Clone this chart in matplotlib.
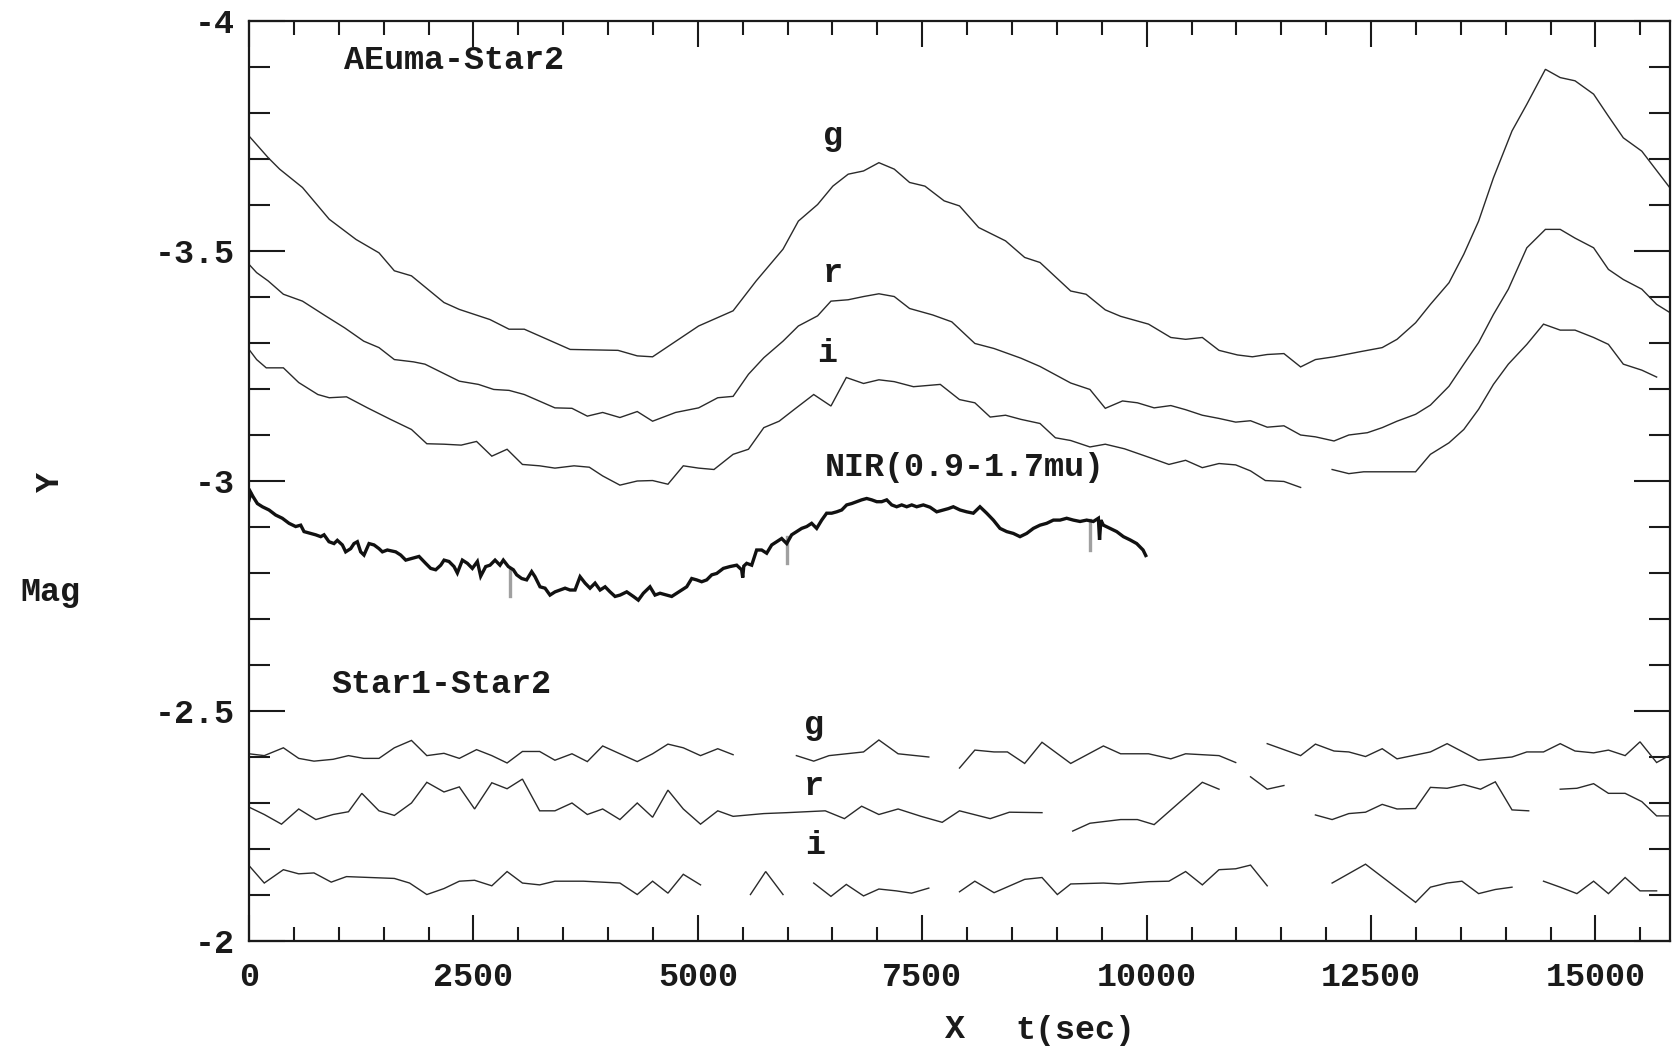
import matplotlib
matplotlib.use("Agg")
import matplotlib.pyplot as plt
from matplotlib.ticker import MultipleLocator, FixedLocator, FixedFormatter
import numpy as np

plt.rcParams['font.family'] = ['Liberation Mono', 'DejaVu Sans Mono']
plt.rcParams['font.weight'] = 'bold'
plt.rcParams['axes.unicode_minus'] = False

# AEuma - Star2 (g, r, i): lists of segments of (t, mag)
aeuma_g = [[(0, -3.750), (213, -3.703), (341, -3.678), (596, -3.638), (894, -3.569), (1193, -3.525),
            (1448, -3.496), (1619, -3.457), (1810, -3.446), (2172, -3.388), (2343, -3.373), (2684, -3.351),
            (2897, -3.330), (3067, -3.330), (3578, -3.286), (4111, -3.284), (4325, -3.272), (4496, -3.270),
            (5009, -3.337), (5393, -3.370), (5650, -3.435), (5949, -3.504), (6120, -3.565), (6334, -3.601),
            (6504, -3.641), (6675, -3.667), (6846, -3.674), (7017, -3.692), (7188, -3.678), (7359, -3.649),
            (7530, -3.641), (7744, -3.609), (7915, -3.598), (8129, -3.551), (8428, -3.522), (8641, -3.486),
            (8812, -3.475), (9154, -3.413), (9325, -3.406), (9539, -3.372), (9710, -3.358), (10021, -3.341),
            (10269, -3.312), (10434, -3.308), (10620, -3.312), (10806, -3.284), (11012, -3.274), (11178, -3.270),
            (11343, -3.275), (11529, -3.277), (11715, -3.248), (11880, -3.264), (12087, -3.270), (12376, -3.281),
            (12624, -3.290), (12789, -3.308), (12996, -3.344), (13161, -3.384), (13368, -3.431), (13533, -3.493),
            (13698, -3.565), (13863, -3.659), (14070, -3.761), (14235, -3.819), (14442, -3.895), (14607, -3.877),
            (14772, -3.870), (14979, -3.841), (15144, -3.793), (15310, -3.746), (15516, -3.717), (15830, -3.637)]]

aeuma_r = [[(0, -3.471), (85, -3.453), (213, -3.435), (383, -3.406), (596, -3.391), (852, -3.359),
            (1065, -3.333), (1278, -3.304), (1448, -3.290), (1619, -3.264), (1832, -3.259), (1960, -3.254),
            (2343, -3.217), (2556, -3.210), (2726, -3.199), (2897, -3.197), (3067, -3.188), (3408, -3.159),
            (3598, -3.158), (3769, -3.141), (3940, -3.149), (4132, -3.138), (4325, -3.151), (4496, -3.130),
            (4752, -3.149), (5009, -3.159), (5222, -3.181), (5393, -3.184), (5564, -3.232), (5735, -3.268),
            (5949, -3.304), (6120, -3.337), (6334, -3.359), (6483, -3.391), (6675, -3.394), (6846, -3.401),
            (7017, -3.407), (7188, -3.401), (7359, -3.375), (7616, -3.361), (7829, -3.346), (8086, -3.299),
            (8300, -3.288), (8599, -3.267), (8812, -3.249), (9154, -3.213), (9368, -3.199), (9539, -3.158),
            (9731, -3.174), (9897, -3.170), (10083, -3.159), (10269, -3.164), (10434, -3.155), (10620, -3.143),
            (10806, -3.136), (10992, -3.128), (11157, -3.131), (11343, -3.117), (11529, -3.120), (11715, -3.100),
            (11880, -3.096), (12087, -3.087), (12252, -3.100), (12459, -3.105), (12624, -3.116), (12789, -3.130),
            (12996, -3.145), (13161, -3.165), (13368, -3.206), (13533, -3.254), (13698, -3.301), (13863, -3.362),
            (14029, -3.417), (14235, -3.507), (14442, -3.547), (14607, -3.547), (14772, -3.528), (14979, -3.507),
            (15144, -3.460), (15310, -3.438), (15516, -3.417), (15681, -3.384), (15830, -3.366)]]

aeuma_i = [[(0, -3.286), (85, -3.264), (192, -3.246), (383, -3.246), (554, -3.214), (767, -3.188),
            (894, -3.181), (1086, -3.183), (1320, -3.159), (1576, -3.134), (1810, -3.112), (1981, -3.081),
            (2172, -3.080), (2364, -3.078), (2535, -3.086), (2705, -3.054), (2875, -3.069), (3046, -3.036),
            (3238, -3.033), (3408, -3.028), (3621, -3.033), (3791, -3.030), (3940, -3.011), (4132, -2.991),
            (4325, -3.000), (4496, -3.001), (4667, -2.993), (4838, -3.033), (5009, -3.028), (5180, -3.025),
            (5393, -3.058), (5564, -3.069), (5735, -3.116), (5906, -3.130), (6077, -3.156), (6291, -3.188),
            (6483, -3.163), (6654, -3.225), (6846, -3.212), (7017, -3.220), (7188, -3.216), (7402, -3.205),
            (7701, -3.210), (7915, -3.177), (8086, -3.170), (8257, -3.139), (8428, -3.143), (8599, -3.134),
            (8812, -3.125), (8983, -3.094), (9154, -3.088), (9368, -3.074), (9539, -3.080), (9753, -3.070),
            (10062, -3.049), (10248, -3.036), (10434, -3.045), (10620, -3.029), (10806, -3.038), (10992, -3.035),
            (11157, -3.022), (11322, -3.001), (11529, -2.999), (11715, -2.986)],
           [(12066, -3.025), (12252, -3.016), (12417, -3.020), (12996, -3.020), (13161, -3.058), (13368, -3.083),
            (13533, -3.112), (13698, -3.156), (13863, -3.210), (14029, -3.254), (14235, -3.297), (14421, -3.341),
            (14607, -3.328), (14772, -3.328), (14979, -3.312), (15144, -3.297), (15310, -3.254), (15516, -3.241),
            (15681, -3.226)]]

# NIR (0.9-1.7 mu) light curve
nir = [(0, -2.958), (20, -2.975), (45, -2.966), (93, -2.951), (149, -2.944), (223, -2.937), (297, -2.926),
       (371, -2.919), (446, -2.908), (520, -2.901), (576, -2.904), (613, -2.890), (687, -2.886), (743, -2.883),
       (799, -2.879), (836, -2.883), (891, -2.868), (947, -2.864), (984, -2.871), (1040, -2.861), (1077, -2.846),
       (1133, -2.853), (1170, -2.864), (1207, -2.868), (1244, -2.846), (1281, -2.839), (1337, -2.864),
       (1393, -2.861), (1448, -2.853), (1486, -2.846), (1541, -2.850), (1634, -2.846), (1690, -2.839),
       (1746, -2.828), (1820, -2.832), (1894, -2.836), (1968, -2.821), (2024, -2.810), (2080, -2.807),
       (2136, -2.817), (2173, -2.828), (2228, -2.825), (2284, -2.814), (2321, -2.800), (2377, -2.828),
       (2433, -2.821), (2488, -2.810), (2544, -2.825), (2581, -2.793), (2637, -2.814), (2685, -2.817),
       (2741, -2.828), (2796, -2.817), (2833, -2.828), (2889, -2.814), (2945, -2.807), (2982, -2.796),
       (3038, -2.788), (3093, -2.785), (3149, -2.803), (3186, -2.792), (3242, -2.770), (3298, -2.767),
       (3353, -2.752), (3409, -2.759), (3465, -2.763), (3521, -2.767), (3576, -2.763), (3632, -2.763),
       (3688, -2.792), (3744, -2.778), (3799, -2.767), (3855, -2.778), (3911, -2.763), (3967, -2.770),
       (4022, -2.759), (4078, -2.749), (4134, -2.752), (4208, -2.759), (4282, -2.749), (4337, -2.741),
       (4393, -2.756), (4467, -2.770), (4523, -2.752), (4579, -2.756), (4653, -2.752), (4709, -2.749),
       (4764, -2.756), (4820, -2.763), (4876, -2.770), (4932, -2.788), (4987, -2.785), (5043, -2.781),
       (5099, -2.785), (5155, -2.796), (5210, -2.799), (5284, -2.810), (5358, -2.814), (5433, -2.817),
       (5488, -2.807), (5500, -2.790), (5512, -2.815), (5544, -2.821), (5600, -2.817), (5655, -2.850),
       (5711, -2.850), (5767, -2.843), (5823, -2.861), (5878, -2.868), (5934, -2.875), (5990, -2.864),
       (6045, -2.883), (6101, -2.890), (6157, -2.897), (6213, -2.901), (6268, -2.908), (6324, -2.897),
       (6380, -2.915), (6435, -2.930), (6491, -2.930), (6547, -2.933), (6603, -2.937), (6658, -2.948),
       (6714, -2.951), (6770, -2.955), (6825, -2.959), (6881, -2.962), (6937, -2.959), (6993, -2.955),
       (7048, -2.955), (7104, -2.959), (7160, -2.948), (7215, -2.944), (7271, -2.948), (7327, -2.944),
       (7383, -2.948), (7438, -2.944), (7512, -2.948), (7587, -2.943), (7661, -2.933), (7735, -2.937),
       (7791, -2.940), (7846, -2.944), (7921, -2.937), (7995, -2.933), (8069, -2.930), (8143, -2.944),
       (8218, -2.930), (8292, -2.915), (8366, -2.897), (8441, -2.890), (8515, -2.886), (8589, -2.879),
       (8663, -2.886), (8738, -2.897), (8812, -2.904), (8886, -2.908), (8961, -2.915), (9035, -2.915),
       (9109, -2.919), (9183, -2.915), (9258, -2.912), (9332, -2.915), (9406, -2.912), (9462, -2.919),
       (9475, -2.872), (9490, -2.915), (9518, -2.904), (9592, -2.897), (9666, -2.890), (9741, -2.879),
       (9815, -2.872), (9889, -2.864), (9960, -2.850), (9990, -2.838)]

# grey spikes on the NIR trace: (t, mag_top, mag_bottom)
nir_spikes = [(2908, -2.807, -2.749), (5990, -2.879, -2.821), (9369, -2.915, -2.850)]

# Star1 - Star2 (g, r, i)
star_g = [[(0, -2.407), (170, -2.403), (383, -2.420), (554, -2.397), (724, -2.391), (937, -2.395),
           (1108, -2.403), (1278, -2.397), (1448, -2.397), (1619, -2.420), (1810, -2.436), (1981, -2.403),
           (2172, -2.408), (2343, -2.397), (2535, -2.416), (2705, -2.403), (2875, -2.387), (3046, -2.412),
           (3238, -2.412), (3408, -2.393), (3598, -2.407), (3769, -2.390), (3940, -2.424), (4132, -2.407),
           (4325, -2.390), (4496, -2.407), (4667, -2.428), (4838, -2.420), (5030, -2.403), (5222, -2.418),
           (5393, -2.405)],
          [(6098, -2.403), (6291, -2.391), (6462, -2.403), (6846, -2.411), (7017, -2.437), (7231, -2.407),
           (7573, -2.400)],
          [(7915, -2.376), (8086, -2.415), (8300, -2.411), (8449, -2.411), (8641, -2.386), (8834, -2.432),
           (9154, -2.386), (9518, -2.424), (9710, -2.407), (10021, -2.407), (10269, -2.396), (10434, -2.407),
           (10806, -2.403), (10992, -2.388)],
          [(11343, -2.429), (11715, -2.403), (11880, -2.428), (12087, -2.413), (12252, -2.411), (12438, -2.401),
           (12624, -2.418), (12789, -2.396), (13161, -2.411), (13347, -2.429), (13698, -2.393), (14070, -2.400),
           (14235, -2.411), (14421, -2.411), (14607, -2.429), (14772, -2.413), (14979, -2.409), (15144, -2.415),
           (15330, -2.403), (15496, -2.433), (15681, -2.388), (15830, -2.404)]]

star_r = [[(0, -2.291), (170, -2.275), (362, -2.254), (554, -2.287), (745, -2.264), (937, -2.275),
           (1108, -2.281), (1257, -2.321), (1448, -2.283), (1619, -2.273), (1810, -2.300), (1981, -2.345),
           (2172, -2.324), (2343, -2.335), (2513, -2.287), (2705, -2.344), (2875, -2.331), (3046, -2.352),
           (3238, -2.283), (3408, -2.283), (3598, -2.300), (3769, -2.275), (3940, -2.287), (4132, -2.264),
           (4325, -2.300), (4496, -2.269), (4667, -2.328), (4838, -2.287), (5030, -2.254), (5222, -2.283),
           (5393, -2.271), (5735, -2.277), (5992, -2.279), (6419, -2.283), (6633, -2.266), (6825, -2.293),
           (7017, -2.275), (7231, -2.287), (7487, -2.271), (7722, -2.258), (7915, -2.283), (8257, -2.266),
           (8471, -2.280), (8834, -2.279)],
          [(9176, -2.239), (9368, -2.256), (9710, -2.264), (9897, -2.264), (10083, -2.253), (10620, -2.345),
           (10806, -2.330)],
          [(11157, -2.357), (11343, -2.330), (11529, -2.338)],
          [(11880, -2.274), (12066, -2.264), (12252, -2.277), (12438, -2.280), (12624, -2.297), (12789, -2.287),
           (12996, -2.288), (13161, -2.334), (13347, -2.332), (13533, -2.340), (13719, -2.330), (13884, -2.346),
           (14070, -2.285), (14256, -2.283)],
          [(14607, -2.330), (14793, -2.332), (14979, -2.342), (15144, -2.321), (15330, -2.321), (15516, -2.303),
           (15681, -2.272), (15830, -2.272)]]

star_i = [[(0, -2.164), (170, -2.126), (383, -2.155), (554, -2.146), (724, -2.148), (916, -2.128),
           (1086, -2.140), (1619, -2.136), (1789, -2.126), (1981, -2.101), (2172, -2.114), (2343, -2.130),
           (2513, -2.132), (2705, -2.120), (2875, -2.151), (3046, -2.126), (3238, -2.122), (3408, -2.130),
           (3726, -2.130), (4132, -2.126), (4325, -2.101), (4496, -2.130), (4667, -2.104), (4838, -2.145),
           (5030, -2.122)],
          [(5586, -2.101), (5756, -2.151), (5949, -2.101)],
          [(6291, -2.126), (6483, -2.097), (6654, -2.123), (6846, -2.098), (7017, -2.113), (7210, -2.109),
           (7381, -2.104), (7573, -2.115)],
          [(7915, -2.107), (8086, -2.130), (8300, -2.105), (8641, -2.134), (8834, -2.138), (9005, -2.101),
           (9154, -2.124), (9518, -2.126), (9690, -2.124), (10021, -2.129), (10248, -2.130), (10434, -2.151),
           (10620, -2.122), (10806, -2.155), (10992, -2.157), (11157, -2.165), (11343, -2.120)],
          [(12066, -2.126), (12438, -2.167), (12996, -2.084), (13161, -2.117), (13347, -2.126), (13512, -2.130),
           (13698, -2.103), (13884, -2.112), (14070, -2.117)],
          [(14421, -2.130), (14607, -2.117), (14793, -2.103), (14979, -2.130), (15144, -2.103), (15330, -2.138),
           (15496, -2.109), (15681, -2.109)]]

# text labels: (t, mag, text, horizontal alignment)
labels = [(1058, -3.915, 'AEuma-Star2', 'left'),
          (6506, -3.748, 'g', 'center'),
          (6506, -3.452, 'r', 'center'),
          (6440, -3.278, 'i', 'center'),
          (7978, -3.030, 'NIR(0.9-1.7mu)', 'center'),
          (913, -2.557, 'Star1-Star2', 'left'),
          (6296, -2.468, 'g', 'center'),
          (6296, -2.335, 'r', 'center'),
          (6305, -2.207, 'i', 'center')]

x_ticks = [0, 2500, 5000, 7500, 10000, 12500, 15000]
y_ticks = [-4, -3.5, -3, -2.5, -2]

W, H = 1677, 1049
fig = plt.figure(figsize=(W / 100, H / 100), dpi=100)
ax = fig.add_axes([249 / W, (H - 941) / H, (1670 - 249) / W, (941 - 21) / H])

line_col = '#2a2a2a'
for series in (aeuma_g, aeuma_r, aeuma_i, star_g, star_r, star_i):
    for seg in series:
        seg = np.array(seg)
        ax.plot(seg[:, 0], seg[:, 1], color=line_col, lw=1.0, solid_joinstyle='miter')

for t, m0, m1 in nir_spikes:
    ax.plot([t, t], [m0, m1], color='#a0a0a0', lw=2.4)
nir_a = np.array(nir)
ax.plot(nir_a[:, 0], nir_a[:, 1], color='#111111', lw=2.4, solid_joinstyle='miter')

for t, m, s, ha in labels:
    ax.text(t, m, s, ha=ha, va='center', fontsize=24, color='#1a1a1a')

ax.set_xlim(0, 15830)
ax.set_ylim(-2, -4)

ax.xaxis.set_major_locator(FixedLocator(x_ticks))
ax.xaxis.set_major_formatter(FixedFormatter([f'{v:g}' for v in x_ticks]))
ax.xaxis.set_minor_locator(MultipleLocator(500))
ax.yaxis.set_major_locator(FixedLocator(y_ticks))
ax.yaxis.set_major_formatter(FixedFormatter([f'{v:g}' for v in y_ticks]))
ax.yaxis.set_minor_locator(MultipleLocator(0.1))

ax.tick_params(axis='both', which='both', direction='in', top=True, right=True,
               width=1.5, color='#1a1a1a', labelsize=24, labelcolor='#1a1a1a')
ax.tick_params(axis='x', which='major', length=19, pad=15)
ax.tick_params(axis='x', which='minor', length=10)
ax.tick_params(axis='y', which='major', length=26, pad=10)
ax.tick_params(axis='y', which='minor', length=15)
for sp in ax.spines.values():
    sp.set_linewidth(1.6)
    sp.set_color('#1a1a1a')

fig.text(50 / W, 1 - 482 / H, 'Y', rotation=90, ha='center', va='center', fontsize=24, color='#1a1a1a')
fig.text(50 / W, 1 - 592 / H, 'Mag', ha='center', va='center', fontsize=24, color='#1a1a1a')
fig.text(955 / W, 1 - 1029 / H, 'X', ha='center', va='center', fontsize=24, color='#1a1a1a')
fig.text(1075 / W, 1 - 1030 / H, 't(sec)', ha='center', va='center', fontsize=24, color='#1a1a1a')

fig.savefig('out.png', dpi=100, facecolor='white')
